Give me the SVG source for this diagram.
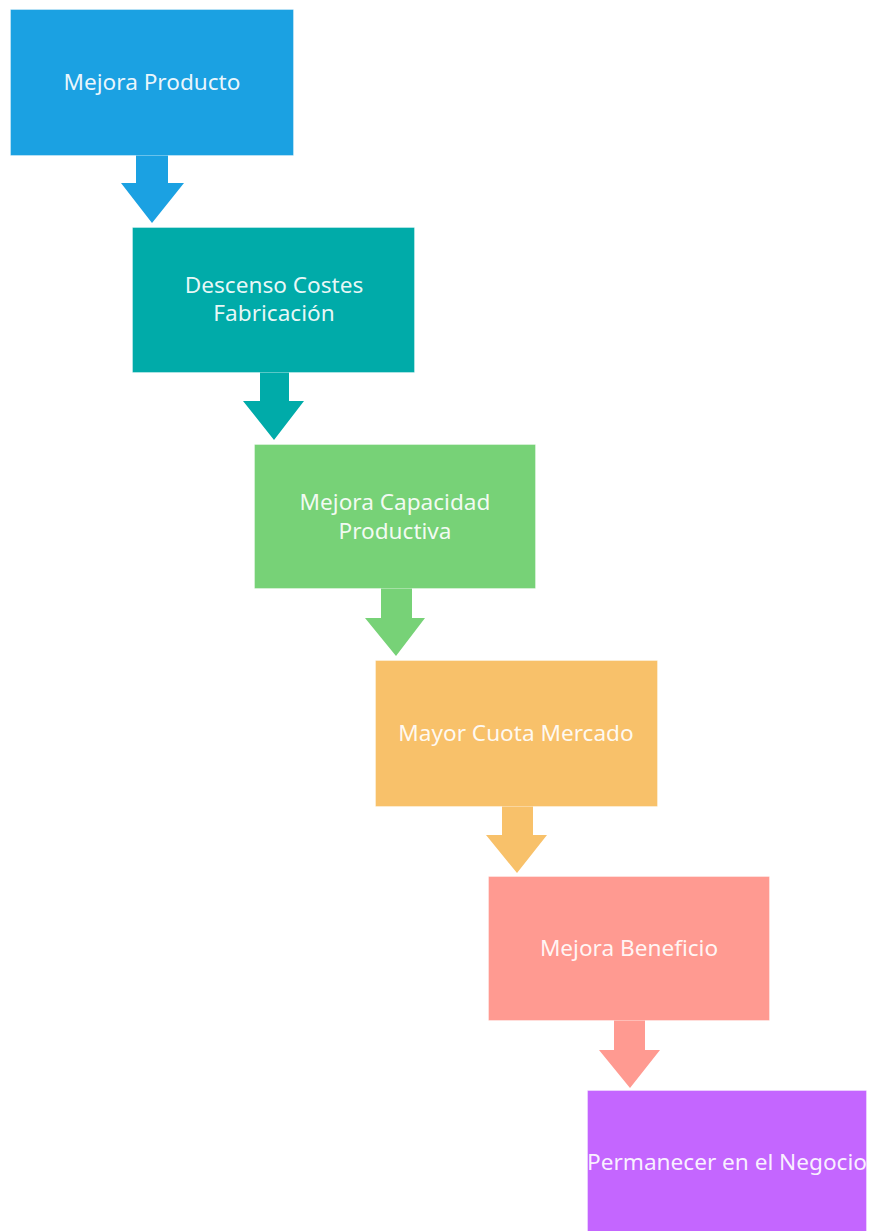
<svg xmlns="http://www.w3.org/2000/svg" width="869" height="1231" viewBox="0 0 869 1231">
  <style>
    .box { stroke: #ffffff; stroke-opacity: 0.35; stroke-width: 1; }
    .label { font-family: "Noto Sans", "Open Sans", sans-serif; font-size: 22.6px; fill: #ffffff; fill-opacity: 0.92; text-anchor: middle; }
  </style>
  <rect width="869" height="1231" fill="#ffffff"/>

  <!-- down arrows between steps -->
  <g id="connectors">
    <polygon fill="#1BA1E2" points="136,155 168,155 168,183 184,183 152,223 121,183 136,183"/>
    <polygon fill="#00ABA9" points="260,372 289,372 289,401 304,401 274,440 243,401 260,401"/>
    <polygon fill="#77D277" points="381,588 412,588 412,618 425,618 396,656 365,618 381,618"/>
    <polygon fill="#F8C16A" points="502,806 533,806 533,835 547,835 517,873 486,835 502,835"/>
    <polygon fill="#FF9A91" points="614,1020 645,1020 645,1050 660,1050 630,1088 599,1050 614,1050"/>
  </g>

  <g id="mejora-producto">
    <rect class="box" x="10.5" y="9.5" width="283" height="146" fill="#1BA1E2"/>
    <text class="label" x="152" y="90">Mejora Producto</text>
  </g>

  <g id="descenso-costes">
    <rect class="box" x="132.5" y="227.5" width="282" height="145" fill="#00ABA9"/>
    <text class="label" x="274" y="293">Descenso Costes</text>
    <text class="label" x="274" y="321">Fabricación</text>
  </g>

  <g id="mejora-capacidad">
    <rect class="box" x="254.5" y="444.5" width="281" height="144" fill="#77D277"/>
    <text class="label" x="395" y="510">Mejora Capacidad</text>
    <text class="label" x="395" y="539">Productiva</text>
  </g>

  <g id="mayor-cuota">
    <rect class="box" x="375.5" y="660.5" width="282" height="146" fill="#F8C16A"/>
    <text class="label" x="516" y="741">Mayor Cuota Mercado</text>
  </g>

  <g id="mejora-beneficio">
    <rect class="box" x="488.5" y="876.5" width="281" height="144" fill="#FF9A91"/>
    <text class="label" x="629" y="956">Mejora Beneficio</text>
  </g>

  <g id="permanecer">
    <rect class="box" x="587.5" y="1090.5" width="279" height="150" fill="#C466FF"/>
    <text class="label" x="727" y="1170">Permanecer en el Negocio</text>
  </g>
</svg>
